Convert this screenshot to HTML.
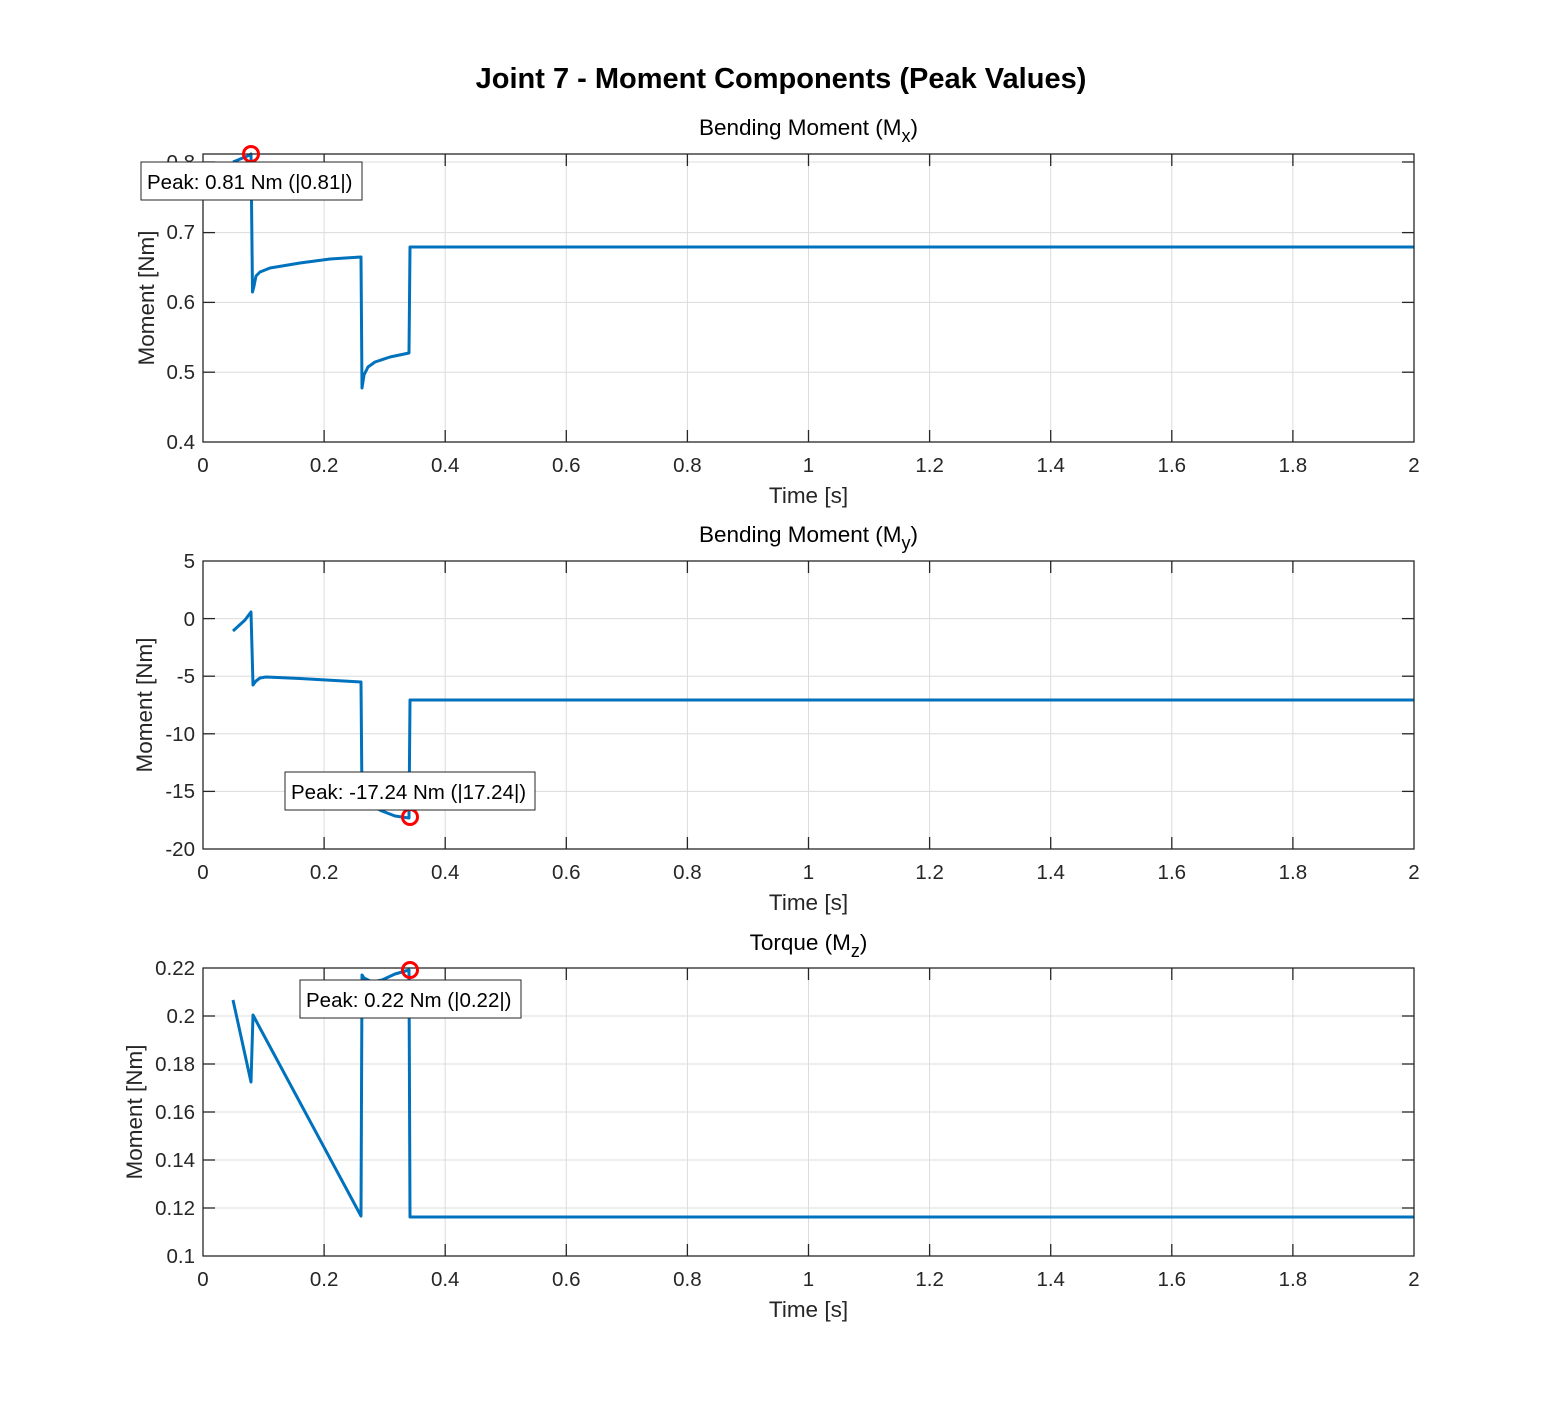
<!DOCTYPE html>
<html><head><meta charset="utf-8"><style>
html,body{margin:0;padding:0;background:#fff;}
svg{display:block;font-family:"Liberation Sans",Arial,sans-serif;}
.tk{font-size:20.5px;fill:#262626;}
.lb{font-size:22.5px;fill:#262626;}
.tt{font-size:22.5px;fill:#000;}
.g line{stroke:#dcdcdc;stroke-width:1;}
.ax{fill:none;stroke:#262626;stroke-width:1.3;}
.t line{stroke:#262626;stroke-width:1.3;}
.c{fill:none;stroke:#0072BD;stroke-width:3;stroke-linejoin:round;}
.pk{fill:none;stroke:#ff0000;stroke-width:3;}
.bx{fill:#fff;stroke:#262626;stroke-width:1;}
.bt{font-size:20.5px;fill:#000;}
</style></head><body>
<svg width="1563" height="1406" viewBox="0 0 1563 1406">
<rect width="1563" height="1406" fill="#fff"/>
<text x="781" y="88" text-anchor="middle" style="font-size:29px;font-weight:bold">Joint 7 - Moment Components (Peak Values)</text>

<!-- ===== Plot 1 ===== -->
<g class="g">
<line x1="324.1" y1="154" x2="324.1" y2="442"/><line x1="445.2" y1="154" x2="445.2" y2="442"/><line x1="566.3" y1="154" x2="566.3" y2="442"/><line x1="687.4" y1="154" x2="687.4" y2="442"/><line x1="808.5" y1="154" x2="808.5" y2="442"/><line x1="929.6" y1="154" x2="929.6" y2="442"/><line x1="1050.7" y1="154" x2="1050.7" y2="442"/><line x1="1171.8" y1="154" x2="1171.8" y2="442"/><line x1="1292.9" y1="154" x2="1292.9" y2="442"/>
<line x1="203" y1="372.2" x2="1414" y2="372.2"/><line x1="203" y1="302.4" x2="1414" y2="302.4"/><line x1="203" y1="232.6" x2="1414" y2="232.6"/><line x1="203" y1="162" x2="1414" y2="162"/>
</g>
<g class="t">
<line x1="324.1" y1="442" x2="324.1" y2="430"/><line x1="445.2" y1="442" x2="445.2" y2="430"/><line x1="566.3" y1="442" x2="566.3" y2="430"/><line x1="687.4" y1="442" x2="687.4" y2="430"/><line x1="808.5" y1="442" x2="808.5" y2="430"/><line x1="929.6" y1="442" x2="929.6" y2="430"/><line x1="1050.7" y1="442" x2="1050.7" y2="430"/><line x1="1171.8" y1="442" x2="1171.8" y2="430"/><line x1="1292.9" y1="442" x2="1292.9" y2="430"/>
<line x1="324.1" y1="154" x2="324.1" y2="166"/><line x1="445.2" y1="154" x2="445.2" y2="166"/><line x1="566.3" y1="154" x2="566.3" y2="166"/><line x1="687.4" y1="154" x2="687.4" y2="166"/><line x1="808.5" y1="154" x2="808.5" y2="166"/><line x1="929.6" y1="154" x2="929.6" y2="166"/><line x1="1050.7" y1="154" x2="1050.7" y2="166"/><line x1="1171.8" y1="154" x2="1171.8" y2="166"/><line x1="1292.9" y1="154" x2="1292.9" y2="166"/>
<line x1="203" y1="372.2" x2="215" y2="372.2"/><line x1="203" y1="302.4" x2="215" y2="302.4"/><line x1="203" y1="232.6" x2="215" y2="232.6"/><line x1="203" y1="162" x2="215" y2="162"/>
<line x1="1414" y1="372.2" x2="1402" y2="372.2"/><line x1="1414" y1="302.4" x2="1402" y2="302.4"/><line x1="1414" y1="232.6" x2="1402" y2="232.6"/><line x1="1414" y1="162" x2="1402" y2="162"/>
</g>
<polyline class="c" points="233,162 250,155 251,154 252.5,292 254,286 256,276 260,272 270,268 300,263 330,259 361,257 362,388 364,375 368,367 375,362 390,357 409,353 410,247 1414,247"/>
<rect class="ax" x="203" y="154" width="1211" height="288"/>
<circle class="pk" cx="251" cy="154" r="7.5"/>
<g class="tk" text-anchor="end">
<text x="195" y="449">0.4</text><text x="195" y="379">0.5</text><text x="195" y="309">0.6</text><text x="195" y="239">0.7</text><text x="195" y="169">0.8</text>
</g>
<g class="tk" text-anchor="middle">
<text x="203" y="472">0</text><text x="324.1" y="472">0.2</text><text x="445.2" y="472">0.4</text><text x="566.3" y="472">0.6</text><text x="687.4" y="472">0.8</text><text x="808.5" y="472">1</text><text x="929.6" y="472">1.2</text><text x="1050.7" y="472">1.4</text><text x="1171.8" y="472">1.6</text><text x="1292.9" y="472">1.8</text><text x="1414" y="472">2</text>
</g>
<text class="lb" x="808.5" y="503" text-anchor="middle">Time [s]</text>
<text class="lb" transform="translate(154,298) rotate(-90)" text-anchor="middle">Moment [Nm]</text>
<text class="tt" x="808.5" y="135" text-anchor="middle">Bending Moment (M<tspan dy="7" font-size="18">x</tspan><tspan dy="-7">)</tspan></text>
<rect class="bx" x="141" y="162" width="221" height="38"/>
<text class="bt" x="147" y="189">Peak: 0.81 Nm (|0.81|)</text>

<!-- ===== Plot 2 ===== -->
<g class="g">
<line x1="324.1" y1="561" x2="324.1" y2="849"/><line x1="445.2" y1="561" x2="445.2" y2="849"/><line x1="566.3" y1="561" x2="566.3" y2="849"/><line x1="687.4" y1="561" x2="687.4" y2="849"/><line x1="808.5" y1="561" x2="808.5" y2="849"/><line x1="929.6" y1="561" x2="929.6" y2="849"/><line x1="1050.7" y1="561" x2="1050.7" y2="849"/><line x1="1171.8" y1="561" x2="1171.8" y2="849"/><line x1="1292.9" y1="561" x2="1292.9" y2="849"/>
<line x1="203" y1="618.6" x2="1414" y2="618.6"/><line x1="203" y1="676.2" x2="1414" y2="676.2"/><line x1="203" y1="733.8" x2="1414" y2="733.8"/><line x1="203" y1="791.4" x2="1414" y2="791.4"/>
</g>
<g class="t">
<line x1="324.1" y1="849" x2="324.1" y2="837"/><line x1="445.2" y1="849" x2="445.2" y2="837"/><line x1="566.3" y1="849" x2="566.3" y2="837"/><line x1="687.4" y1="849" x2="687.4" y2="837"/><line x1="808.5" y1="849" x2="808.5" y2="837"/><line x1="929.6" y1="849" x2="929.6" y2="837"/><line x1="1050.7" y1="849" x2="1050.7" y2="837"/><line x1="1171.8" y1="849" x2="1171.8" y2="837"/><line x1="1292.9" y1="849" x2="1292.9" y2="837"/>
<line x1="324.1" y1="561" x2="324.1" y2="573"/><line x1="445.2" y1="561" x2="445.2" y2="573"/><line x1="566.3" y1="561" x2="566.3" y2="573"/><line x1="687.4" y1="561" x2="687.4" y2="573"/><line x1="808.5" y1="561" x2="808.5" y2="573"/><line x1="929.6" y1="561" x2="929.6" y2="573"/><line x1="1050.7" y1="561" x2="1050.7" y2="573"/><line x1="1171.8" y1="561" x2="1171.8" y2="573"/><line x1="1292.9" y1="561" x2="1292.9" y2="573"/>
<line x1="203" y1="618.6" x2="215" y2="618.6"/><line x1="203" y1="676.2" x2="215" y2="676.2"/><line x1="203" y1="733.8" x2="215" y2="733.8"/><line x1="203" y1="791.4" x2="215" y2="791.4"/>
<line x1="1414" y1="618.6" x2="1402" y2="618.6"/><line x1="1414" y1="676.2" x2="1402" y2="676.2"/><line x1="1414" y1="733.8" x2="1402" y2="733.8"/><line x1="1414" y1="791.4" x2="1402" y2="791.4"/>
</g>
<polyline class="c" points="233,631 245,620 251,612 253,685 256,681 260,678 266,677 300,678.5 361,682 362,800 370,805 382,811 395,816 409,818 410,700 1414,700"/>
<rect class="ax" x="203" y="561" width="1211" height="288"/>
<circle class="pk" cx="410" cy="817" r="7.5"/>
<g class="tk" text-anchor="end">
<text x="195" y="568">5</text><text x="195" y="626">0</text><text x="195" y="683">-5</text><text x="195" y="741">-10</text><text x="195" y="798">-15</text><text x="195" y="856">-20</text>
</g>
<g class="tk" text-anchor="middle">
<text x="203" y="879">0</text><text x="324.1" y="879">0.2</text><text x="445.2" y="879">0.4</text><text x="566.3" y="879">0.6</text><text x="687.4" y="879">0.8</text><text x="808.5" y="879">1</text><text x="929.6" y="879">1.2</text><text x="1050.7" y="879">1.4</text><text x="1171.8" y="879">1.6</text><text x="1292.9" y="879">1.8</text><text x="1414" y="879">2</text>
</g>
<text class="lb" x="808.5" y="910" text-anchor="middle">Time [s]</text>
<text class="lb" transform="translate(152,705) rotate(-90)" text-anchor="middle">Moment [Nm]</text>
<text class="tt" x="808.5" y="542" text-anchor="middle">Bending Moment (M<tspan dy="7" font-size="18">y</tspan><tspan dy="-7">)</tspan></text>
<rect class="bx" x="285" y="772" width="250" height="38"/>
<text class="bt" x="291" y="799">Peak: -17.24 Nm (|17.24|)</text>

<!-- ===== Plot 3 ===== -->
<g class="g">
<line x1="324.1" y1="968" x2="324.1" y2="1256"/><line x1="445.2" y1="968" x2="445.2" y2="1256"/><line x1="566.3" y1="968" x2="566.3" y2="1256"/><line x1="687.4" y1="968" x2="687.4" y2="1256"/><line x1="808.5" y1="968" x2="808.5" y2="1256"/><line x1="929.6" y1="968" x2="929.6" y2="1256"/><line x1="1050.7" y1="968" x2="1050.7" y2="1256"/><line x1="1171.8" y1="968" x2="1171.8" y2="1256"/><line x1="1292.9" y1="968" x2="1292.9" y2="1256"/>
<line x1="203" y1="1208" x2="1414" y2="1208"/><line x1="203" y1="1160" x2="1414" y2="1160"/><line x1="203" y1="1112" x2="1414" y2="1112"/><line x1="203" y1="1064" x2="1414" y2="1064"/><line x1="203" y1="1016" x2="1414" y2="1016"/>
</g>
<g class="t">
<line x1="324.1" y1="1256" x2="324.1" y2="1244"/><line x1="445.2" y1="1256" x2="445.2" y2="1244"/><line x1="566.3" y1="1256" x2="566.3" y2="1244"/><line x1="687.4" y1="1256" x2="687.4" y2="1244"/><line x1="808.5" y1="1256" x2="808.5" y2="1244"/><line x1="929.6" y1="1256" x2="929.6" y2="1244"/><line x1="1050.7" y1="1256" x2="1050.7" y2="1244"/><line x1="1171.8" y1="1256" x2="1171.8" y2="1244"/><line x1="1292.9" y1="1256" x2="1292.9" y2="1244"/>
<line x1="324.1" y1="968" x2="324.1" y2="980"/><line x1="445.2" y1="968" x2="445.2" y2="980"/><line x1="566.3" y1="968" x2="566.3" y2="980"/><line x1="687.4" y1="968" x2="687.4" y2="980"/><line x1="808.5" y1="968" x2="808.5" y2="980"/><line x1="929.6" y1="968" x2="929.6" y2="980"/><line x1="1050.7" y1="968" x2="1050.7" y2="980"/><line x1="1171.8" y1="968" x2="1171.8" y2="980"/><line x1="1292.9" y1="968" x2="1292.9" y2="980"/>
<line x1="203" y1="1208" x2="215" y2="1208"/><line x1="203" y1="1160" x2="215" y2="1160"/><line x1="203" y1="1112" x2="215" y2="1112"/><line x1="203" y1="1064" x2="215" y2="1064"/><line x1="203" y1="1016" x2="215" y2="1016"/>
<line x1="1414" y1="1208" x2="1402" y2="1208"/><line x1="1414" y1="1160" x2="1402" y2="1160"/><line x1="1414" y1="1112" x2="1402" y2="1112"/><line x1="1414" y1="1064" x2="1402" y2="1064"/><line x1="1414" y1="1016" x2="1402" y2="1016"/>
</g>
<polyline class="c" points="233,1000 251,1082 253,1015 261,1030 361,1216 362,975 364,978 372,982 382,980 395,974 409,970 410,1217 1414,1217"/>
<rect class="ax" x="203" y="968" width="1211" height="288"/>
<circle class="pk" cx="410" cy="970" r="7.5"/>
<g class="tk" text-anchor="end">
<text x="195" y="1263">0.1</text><text x="195" y="1215">0.12</text><text x="195" y="1167">0.14</text><text x="195" y="1119">0.16</text><text x="195" y="1071">0.18</text><text x="195" y="1023">0.2</text><text x="195" y="975">0.22</text>
</g>
<g class="tk" text-anchor="middle">
<text x="203" y="1286">0</text><text x="324.1" y="1286">0.2</text><text x="445.2" y="1286">0.4</text><text x="566.3" y="1286">0.6</text><text x="687.4" y="1286">0.8</text><text x="808.5" y="1286">1</text><text x="929.6" y="1286">1.2</text><text x="1050.7" y="1286">1.4</text><text x="1171.8" y="1286">1.6</text><text x="1292.9" y="1286">1.8</text><text x="1414" y="1286">2</text>
</g>
<text class="lb" x="808.5" y="1317" text-anchor="middle">Time [s]</text>
<text class="lb" transform="translate(142,1112) rotate(-90)" text-anchor="middle">Moment [Nm]</text>
<text class="tt" x="808.5" y="950" text-anchor="middle">Torque (M<tspan dy="7" font-size="18">z</tspan><tspan dy="-7">)</tspan></text>
<rect class="bx" x="300" y="980" width="221" height="38"/>
<text class="bt" x="306" y="1007">Peak: 0.22 Nm (|0.22|)</text>
</svg>
</body></html>
